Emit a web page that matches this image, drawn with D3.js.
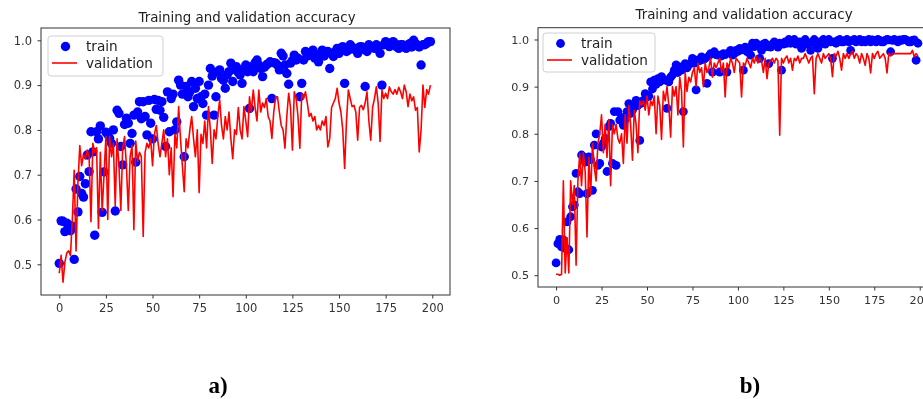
<!DOCTYPE html>
<html>
<head>
<meta charset="utf-8">
<script src="https://cdn.jsdelivr.net/npm/d3@7"></script>
<style>
  html, body { margin: 0; padding: 0; background: #fff; }
  svg { display: block; }
  .tick text { font-family: "DejaVu Sans", sans-serif; fill: #333; }
  .tick line { stroke: #333; }
</style>
</head>
<body>
<div id="chart"></div>
<script>
// epoch index shared by every series
const epochs = d3.range(200);

// panel a) training accuracy (dots)
const trainA = [
  0.502, 0.597, 0.596, 0.573, 0.592, 0.588, 0.575, 0.585, 0.511, 0.668,
  0.617, 0.696, 0.658, 0.650, 0.680, 0.744, 0.707, 0.796, 0.751, 0.565,
  0.796, 0.780, 0.809, 0.616, 0.706, 0.795, 0.790, 0.781, 0.770, 0.800,
  0.619, 0.844, 0.837, 0.763, 0.722, 0.812, 0.826, 0.815, 0.770, 0.792,
  0.833, 0.728, 0.840, 0.863, 0.825, 0.863, 0.830, 0.789, 0.866, 0.815,
  0.780, 0.868, 0.846, 0.866, 0.844, 0.863, 0.828, 0.763, 0.885, 0.796,
  0.870, 0.880, 0.800, 0.818, 0.911, 0.900, 0.880, 0.740, 0.897, 0.874,
  0.885, 0.908, 0.852, 0.893, 0.870, 0.908, 0.874, 0.859, 0.880, 0.833,
  0.900, 0.937, 0.920, 0.833, 0.874, 0.930, 0.934, 0.915, 0.911, 0.893,
  0.923, 0.930, 0.949, 0.908, 0.935, 0.941, 0.928, 0.923, 0.904, 0.934,
  0.945, 0.930, 0.848, 0.941, 0.930, 0.950, 0.956, 0.945, 0.937, 0.919,
  0.940, 0.945, 0.948, 0.952, 0.870, 0.950, 0.949, 0.945, 0.934, 0.971,
  0.965, 0.945, 0.926, 0.902, 0.949, 0.955, 0.967, 0.956, 0.960, 0.874,
  0.904, 0.956, 0.975, 0.965, 0.967, 0.970, 0.978, 0.960, 0.960, 0.952,
  0.970, 0.978, 0.965, 0.971, 0.975, 0.937, 0.970, 0.964, 0.975, 0.982,
  0.971, 0.980, 0.986, 0.904, 0.975, 0.978, 0.990, 0.985, 0.982, 0.978,
  0.971, 0.985, 0.986, 0.980, 0.897, 0.975, 0.990, 0.985, 0.986, 0.982,
  0.990, 0.985, 0.971, 0.900, 0.990, 0.997, 0.990, 0.986, 0.992, 0.997,
  0.993, 0.985, 0.982, 0.990, 0.990, 0.985, 0.982, 0.990, 0.993, 0.985,
  1.000, 0.993, 0.988, 0.985, 0.945, 0.990, 0.990, 0.993, 0.997, 0.997
];

// panel a) validation accuracy (line)
const valA = [
  0.480, 0.520, 0.460, 0.505, 0.525, 0.530, 0.520, 0.600, 0.710, 0.530,
  0.680, 0.765, 0.720, 0.745, 0.735, 0.755, 0.740, 0.595, 0.770, 0.750,
  0.760, 0.580, 0.750, 0.620, 0.700, 0.785, 0.600, 0.785, 0.740, 0.770,
  0.630, 0.780, 0.720, 0.620, 0.760, 0.785, 0.720, 0.620, 0.740, 0.765,
  0.577, 0.775, 0.730, 0.750, 0.740, 0.562, 0.750, 0.770, 0.760, 0.780,
  0.720, 0.790, 0.810, 0.770, 0.740, 0.770, 0.800, 0.740, 0.780, 0.700,
  0.760, 0.651, 0.790, 0.760, 0.852, 0.780, 0.720, 0.662, 0.780, 0.760,
  0.800, 0.830, 0.780, 0.740, 0.800, 0.660, 0.790, 0.770, 0.820, 0.760,
  0.852, 0.800, 0.725, 0.800, 0.780, 0.830, 0.867, 0.810, 0.780, 0.830,
  0.800, 0.840, 0.780, 0.736, 0.800, 0.790, 0.850, 0.800, 0.780, 0.852,
  0.820, 0.785, 0.874, 0.840, 0.889, 0.850, 0.820, 0.889, 0.840, 0.860,
  0.850, 0.870, 0.830, 0.820, 0.781, 0.840, 0.874, 0.874, 0.840, 0.810,
  0.800, 0.759, 0.830, 0.882, 0.850, 0.755, 0.885, 0.870, 0.830, 0.759,
  0.880, 0.870, 0.885, 0.860, 0.830, 0.837, 0.820, 0.830, 0.800, 0.810,
  0.800, 0.820, 0.810, 0.830, 0.762, 0.780, 0.850, 0.860, 0.870, 0.893,
  0.860, 0.840, 0.800, 0.714, 0.820, 0.889, 0.870, 0.852, 0.855, 0.840,
  0.777, 0.850, 0.855, 0.845, 0.860, 0.885, 0.820, 0.777, 0.850, 0.870,
  0.896, 0.860, 0.774, 0.889, 0.870, 0.882, 0.870, 0.896, 0.885, 0.880,
  0.890, 0.880, 0.895, 0.885, 0.870, 0.900, 0.885, 0.852, 0.880, 0.865,
  0.874, 0.844, 0.850, 0.751, 0.800, 0.900, 0.850, 0.890, 0.880, 0.900
];

// panel b) training accuracy (dots)
const trainB = [
  0.526, 0.567, 0.576, 0.560, 0.575, 0.557, 0.613, 0.554, 0.624, 0.645,
  0.649, 0.716, 0.677, 0.673, 0.755, 0.751, 0.740, 0.673, 0.751, 0.745,
  0.680, 0.776, 0.800, 0.733, 0.737, 0.772, 0.780, 0.790, 0.720, 0.815,
  0.822, 0.737, 0.847, 0.733, 0.847, 0.829, 0.835, 0.818, 0.830, 0.847,
  0.864, 0.843, 0.850, 0.857, 0.871, 0.860, 0.786, 0.865, 0.871, 0.885,
  0.878, 0.880, 0.910, 0.895, 0.914, 0.905, 0.917, 0.910, 0.921, 0.915,
  0.914, 0.854, 0.910, 0.920, 0.925, 0.935, 0.946, 0.930, 0.942, 0.935,
  0.847, 0.949, 0.940, 0.946, 0.950, 0.960, 0.950, 0.893, 0.956, 0.955,
  0.963, 0.958, 0.960, 0.907, 0.965, 0.970, 0.931, 0.974, 0.968, 0.967,
  0.931, 0.965, 0.970, 0.968, 0.931, 0.972, 0.977, 0.967, 0.970, 0.977,
  0.975, 0.981, 0.978, 0.935, 0.984, 0.974, 0.980, 0.967, 0.992, 0.985,
  0.992, 0.988, 0.960, 0.977, 0.990, 0.992, 0.985, 0.949, 0.984, 0.990,
  0.995, 0.990, 0.984, 0.992, 0.935, 0.990, 0.995, 0.992, 1.000, 0.992,
  0.995, 1.000, 0.990, 0.992, 0.995, 0.981, 0.995, 1.000, 0.990, 0.992,
  0.977, 0.995, 1.000, 0.990, 0.981, 0.995, 0.992, 1.000, 0.990, 0.995,
  1.000, 0.995, 0.960, 0.995, 0.992, 0.998, 1.000, 0.995, 0.995, 0.998,
  1.000, 0.995, 0.977, 0.998, 1.000, 0.995, 0.998, 1.000, 0.995, 0.998,
  0.995, 0.998, 1.000, 0.995, 0.999, 0.998, 0.995, 1.000, 0.998, 0.995,
  0.995, 0.998, 1.000, 0.999, 0.974, 0.998, 1.000, 0.998, 0.995, 0.999,
  0.998, 1.000, 1.000, 0.998, 0.995, 0.995, 0.998, 0.999, 0.956, 0.992
];

// panel b) validation accuracy (line)
const valB = [
  0.502, 0.502, 0.500, 0.502, 0.700, 0.505, 0.580, 0.505, 0.700, 0.650,
  0.690, 0.521, 0.700, 0.758, 0.690, 0.760, 0.720, 0.581, 0.750, 0.670,
  0.780, 0.730, 0.700, 0.780, 0.800, 0.840, 0.760, 0.820, 0.750, 0.830,
  0.690, 0.820, 0.800, 0.820, 0.790, 0.780, 0.800, 0.737, 0.840, 0.780,
  0.860, 0.820, 0.744, 0.850, 0.820, 0.760, 0.870, 0.860, 0.870, 0.850,
  0.880, 0.840, 0.870, 0.860, 0.880, 0.800, 0.880, 0.860, 0.788, 0.890,
  0.870, 0.900, 0.860, 0.793, 0.900, 0.880, 0.900, 0.840, 0.920, 0.890,
  0.772, 0.930, 0.890, 0.920, 0.910, 0.930, 0.940, 0.900, 0.950, 0.930,
  0.940, 0.900, 0.950, 0.930, 0.940, 0.960, 0.920, 0.950, 0.940, 0.950,
  0.960, 0.930, 0.950, 0.878, 0.950, 0.940, 0.960, 0.950, 0.930, 0.960,
  0.955, 0.950, 0.878, 0.950, 0.945, 0.960, 0.950, 0.940, 0.960, 0.950,
  0.965, 0.950, 0.960, 0.955, 0.930, 0.960, 0.917, 0.950, 0.955, 0.960,
  0.950, 0.960, 0.955, 0.797, 0.960, 0.950, 0.960, 0.965, 0.950, 0.960,
  0.935, 0.960, 0.955, 0.965, 0.950, 0.960, 0.960, 0.970, 0.960, 0.950,
  0.960, 0.965, 0.885, 0.960, 0.970, 0.960, 0.950, 0.970, 0.960, 0.965,
  0.970, 0.960, 0.921, 0.970, 0.965, 0.975, 0.960, 0.935, 0.970, 0.960,
  0.970, 0.960, 0.970, 0.975, 0.960, 0.970, 0.965, 0.950, 0.970, 0.960,
  0.945, 0.970, 0.960, 0.929, 0.970, 0.960, 0.970, 0.975, 0.960, 0.965,
  0.970, 0.960, 0.929, 0.970, 0.965, 0.970, 0.970, 0.970, 0.970, 0.970,
  0.970, 0.970, 0.970, 0.970, 0.970, 0.970, 0.977, 0.963, 0.970, 0.965
];

const xTicks = [0, 25, 50, 75, 100, 125, 150, 175, 200];
const yTicks = [0.5, 0.6, 0.7, 0.8, 0.9, 1.0];
const titleText = 'Training and validation accuracy';
const legendLabels = ['train', 'validation'];

const width = 923;
const height = 399;

// layout of the two panels (pixel frame and data extent)
const panels = [
  {
    id: 'a', label: 'a)', train: trainA, val: valA,
    xDom: [-9.8, 209.5], xRange: [41, 450],
    yDom: [0.4315, 1.0275], yRange: [295, 28],
    r: 4.7, titleX: 247, titleY: 22, tickFont: 11.5,
    legend: { x: 48, y: 36, w: 115, h: 40 }, labelX: 218
  },
  {
    id: 'b', label: 'b)', train: trainB, val: valB,
    xDom: [-9.95, 208.95], xRange: [538, 936],
    yDom: [0.475, 1.025], yRange: [287, 27.7],
    r: 4.4, titleX: 744, titleY: 19, tickFont: 11.2,
    legend: { x: 543, y: 33, w: 112, h: 39 }, labelX: 750
  }
];

const svg = d3.select('#chart')
  .append('svg')
  .attr('width', width)
  .attr('height', height)
  .style('filter', 'blur(0.35px)');

panels.forEach(drawPanel);

function drawPanel(p) {
  const x = d3.scaleLinear().domain(p.xDom).range(p.xRange);
  const y = d3.scaleLinear().domain(p.yDom).range(p.yRange);
  const g = svg.append('g');

  const [x0, x1] = p.xRange;
  const [yb, yt] = p.yRange;

  g.append('clipPath')
    .attr('id', 'clip-' + p.id)
    .append('rect')
    .attr('x', x0).attr('y', yt)
    .attr('width', x1 - x0).attr('height', yb - yt);

  const plot = g.append('g').attr('clip-path', `url(#clip-${p.id})`);

  // train dots
  plot.append('g')
    .selectAll('circle')
    .data(p.train)
    .join('circle')
    .attr('cx', (d, i) => x(epochs[i]))
    .attr('cy', (d) => y(d))
    .attr('r', p.r)
    .attr('fill', '#0000ff');

  // validation line on top
  const line = d3.line()
    .x((d, i) => x(epochs[i]))
    .y((d) => y(d));

  plot.append('path')
    .datum(p.val)
    .attr('d', line)
    .attr('fill', 'none')
    .attr('stroke', '#ff0000')
    .attr('stroke-width', 1.6)
    .attr('stroke-linejoin', 'round');

  // axes
  const xAxis = d3.axisBottom(x)
    .tickValues(xTicks)
    .tickSize(3.5)
    .tickPadding(5.5)
    .tickFormat(d3.format('d'));

  g.append('g')
    .attr('transform', `translate(0,${yb})`)
    .call(xAxis)
    .call((a) => a.select('.domain').remove())
    .selectAll('text')
    .style('font-size', p.tickFont + 'px');

  const yAxis = d3.axisLeft(y)
    .tickValues(yTicks)
    .tickSize(3.5)
    .tickPadding(5.5)
    .tickFormat(d3.format('.1f'));

  g.append('g')
    .attr('transform', `translate(${x0},0)`)
    .call(yAxis)
    .call((a) => a.select('.domain').remove())
    .selectAll('text')
    .style('font-size', p.tickFont + 'px');

  // frame
  g.append('rect')
    .attr('x', x0).attr('y', yt)
    .attr('width', x1 - x0).attr('height', yb - yt)
    .attr('fill', 'none')
    .attr('stroke', '#333')
    .attr('stroke-width', 1);

  // title
  g.append('text')
    .attr('x', p.titleX)
    .attr('y', p.titleY)
    .attr('text-anchor', 'middle')
    .style('font-family', '"DejaVu Sans", sans-serif')
    .style('font-size', '13.4px')
    .style('fill', '#222')
    .text(titleText);

  // legend
  const lg = g.append('g')
    .attr('transform', `translate(${p.legend.x},${p.legend.y})`);

  lg.append('rect')
    .attr('width', p.legend.w)
    .attr('height', p.legend.h)
    .attr('rx', 3)
    .attr('fill', '#fff')
    .attr('fill-opacity', 0.8)
    .attr('stroke', '#d0d0d0');

  lg.append('circle')
    .attr('cx', 17.5).attr('cy', 10.5)
    .attr('r', p.r)
    .attr('fill', '#0000ff');

  lg.append('line')
    .attr('x1', 4).attr('x2', 29)
    .attr('y1', 27).attr('y2', 27)
    .attr('stroke', '#ff0000')
    .attr('stroke-width', 1.6);

  lg.selectAll('text')
    .data(legendLabels)
    .join('text')
    .attr('x', 38)
    .attr('y', (d, i) => 14.5 + i * 17)
    .style('font-family', '"DejaVu Sans", sans-serif')
    .style('font-size', '13.6px')
    .style('fill', '#222')
    .text((d) => d);

  // panel label below
  svg.append('text')
    .attr('x', p.labelX)
    .attr('y', 393)
    .attr('text-anchor', 'middle')
    .style('font-family', '"Liberation Serif", "Times New Roman", serif')
    .style('font-weight', 'bold')
    .style('font-size', '23px')
    .style('fill', '#000')
    .text(p.label);
}
</script>
</body>
</html>
